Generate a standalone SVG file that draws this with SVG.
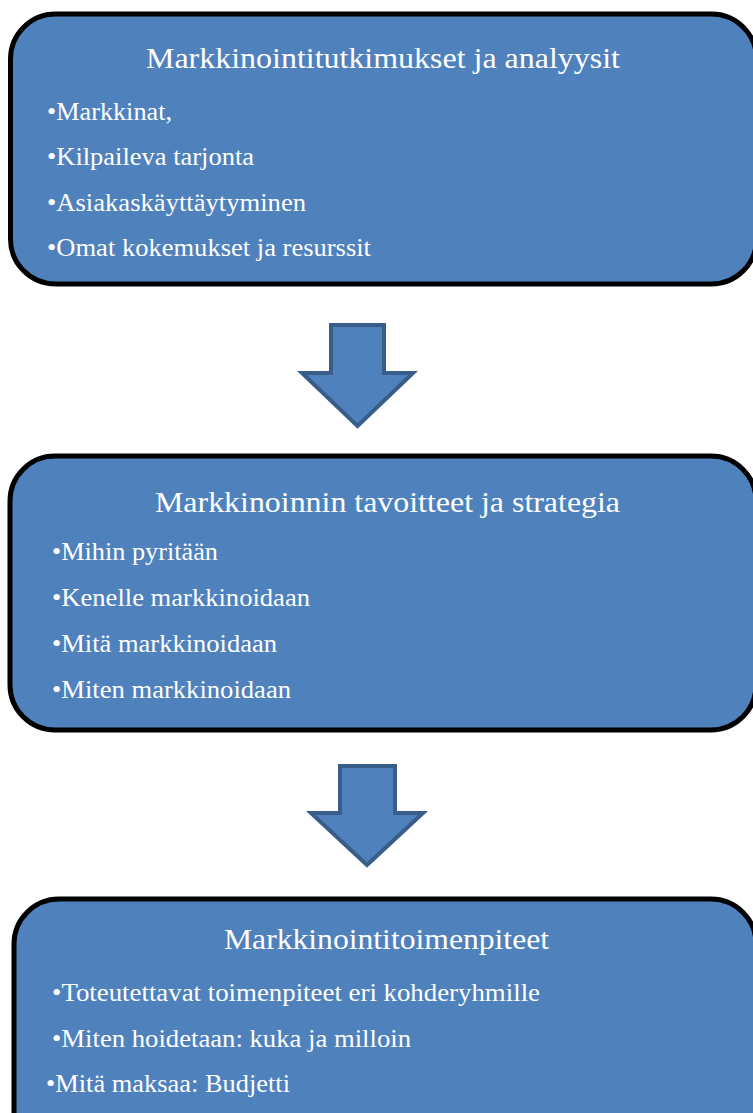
<svg xmlns="http://www.w3.org/2000/svg" width="753" height="1113" viewBox="0 0 753 1113">
<style>
.box{fill:#4F81BD;stroke:#000;stroke-width:5}
.arrow{fill:#4F81BD;stroke:#385D8A;stroke-width:4;stroke-linejoin:miter}
.t{font-family:"Liberation Serif","Times New Roman",serif;fill:#fff}
.title{font-size:30px}
.b{font-size:26px}
</style>
<rect width="753" height="1113" fill="#fff"/>
<g id="node1">
<rect class="box" x="10.5" y="14" width="746" height="270" rx="45" ry="45"/>
<text class="t title" x="146" y="68" textLength="474" lengthAdjust="spacingAndGlyphs">Markkinointitutkimukset ja analyysit</text>
<text class="t b" x="47" y="120" textLength="125" lengthAdjust="spacingAndGlyphs">•Markkinat,</text>
<text class="t b" x="47" y="165" textLength="207" lengthAdjust="spacingAndGlyphs">•Kilpaileva tarjonta</text>
<text class="t b" x="47" y="211" textLength="259" lengthAdjust="spacingAndGlyphs">•Asiakaskäyttäytyminen</text>
<text class="t b" x="47" y="256" textLength="324" lengthAdjust="spacingAndGlyphs">•Omat kokemukset ja resurssit</text>
</g>
<g id="node2">
<rect class="box" x="10" y="456" width="746" height="274" rx="45" ry="45"/>
<text class="t title" x="155" y="512" textLength="465" lengthAdjust="spacingAndGlyphs">Markkinoinnin tavoitteet ja strategia</text>
<text class="t b" x="52" y="560" textLength="166" lengthAdjust="spacingAndGlyphs">•Mihin pyritään</text>
<text class="t b" x="52" y="606" textLength="258" lengthAdjust="spacingAndGlyphs">•Kenelle markkinoidaan</text>
<text class="t b" x="52" y="652" textLength="225" lengthAdjust="spacingAndGlyphs">•Mitä markkinoidaan</text>
<text class="t b" x="52" y="698" textLength="239" lengthAdjust="spacingAndGlyphs">•Miten markkinoidaan</text>
</g>
<g id="node3">
<rect class="box" x="14" y="899" width="742" height="260" rx="45" ry="45"/>
<text class="t title" x="224" y="949" textLength="325" lengthAdjust="spacingAndGlyphs">Markkinointitoimenpiteet</text>
<text class="t b" x="52" y="1001" textLength="488" lengthAdjust="spacingAndGlyphs">•Toteutettavat toimenpiteet eri kohderyhmille</text>
<text class="t b" x="52" y="1047" textLength="359" lengthAdjust="spacingAndGlyphs">•Miten hoidetaan: kuka ja milloin</text>
<text class="t b" x="46" y="1092" textLength="244" lengthAdjust="spacingAndGlyphs">•Mitä maksaa: Budjetti</text>
</g>
<g id="connectors">
<path class="arrow" d="M331,325 L384,325 L384,373 L413,373 L357.5,426 L302,373 L331,373 Z"/>
<path class="arrow" d="M340,766 L395,766 L395,813 L423,813 L367,865 L311,813 L340,813 Z"/>
</g>
</svg>
